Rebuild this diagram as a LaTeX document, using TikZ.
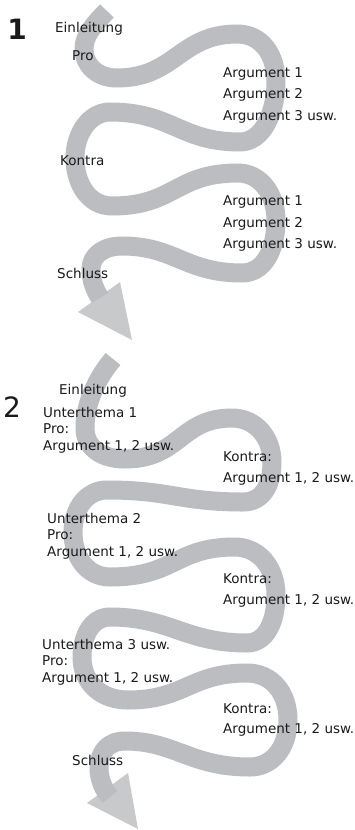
\documentclass[tikz,border=0pt]{standalone}
\usepackage{fontspec}
\setmainfont{DejaVu Sans}
\definecolor{band}{HTML}{BCBDC0}
\definecolor{head}{HTML}{C8C9CB}
\definecolor{ink}{HTML}{1A1A1A}
\begin{document}
\begin{tikzpicture}[x=1pt,y=-1pt,
  snake/.style={draw=band,line width=19pt,line cap=butt,line join=round},
  headstyle/.style={fill=head,draw=none},
  lbl/.style={anchor=base west,inner sep=0pt,text=ink,font=\fontsize{13.5}{16}\selectfont},
  num/.style={anchor=center,inner sep=0pt,text=ink,font=\fontsize{28}{30}\selectfont}]
\useasboundingbox (0,0) rectangle (354,830);
\fill[white] (0,0) rectangle (354,830);
% ---------- Diagram 1 ----------
\fill[headstyle] (78,312) -- (120,282) -- (132,340) -- cycle;
\draw[snake] (107,11) .. controls (93,25) and (84,36) .. (84,49)
  .. controls (84,66) and (98,78) .. (117,78)
  .. controls (175,78) and (180,34) .. (237,34)
  .. controls (262,34) and (276,55) .. (276,82)
  .. controls (276,112) and (263,142) .. (240,142)
  .. controls (180,142) and (172,112) .. (110,112)
  .. controls (90,112) and (75,133) .. (75,158)
  .. controls (75,184) and (89,206) .. (112,206)
  .. controls (175,206) and (175,173) .. (238,173)
  .. controls (261,173) and (276,195) .. (276,220)
  .. controls (276,250) and (264,273) .. (242,273)
  .. controls (185,273) and (175,246) .. (122,246)
  .. controls (104,246) and (91,255) .. (91,269)
  .. controls (91,281) and (95,290) .. (100,298);
\node[num,font=\fontsize{28}{30}\selectfont\bfseries] (n1) at (17,29) {1};
\node[lbl] (a-ein) at (55,32) {Einleitung};
\node[lbl] (a-pro) at (72,60) {Pro};
\node[lbl] (a-p1) at (223,77) {Argument 1};
\node[lbl] (a-p2) at (223,98.5) {Argument 2};
\node[lbl] (a-p3) at (223,120) {Argument 3 usw.};
\node[lbl] (a-kon) at (60,165) {Kontra};
\node[lbl] (a-k1) at (223,205) {Argument 1};
\node[lbl] (a-k2) at (223,227) {Argument 2};
\node[lbl] (a-k3) at (223,248) {Argument 3 usw.};
\node[lbl] (a-sch) at (57,278) {Schluss};
% ---------- Diagram 2 ----------
\fill[headstyle] (87,803) -- (128,773) -- (138,829) -- cycle;
\draw[snake] (113,359) .. controls (97,378) and (85,403) .. (85,428)
  .. controls (85,448) and (102,459) .. (125,459)
  .. controls (180,459) and (180,418) .. (232,418)
  .. controls (256,418) and (272,438) .. (272,462)
  .. controls (272,486) and (262,502) .. (243,502)
  .. controls (180,502) and (170,490) .. (107,490)
  .. controls (87,490) and (73,508) .. (73,532)
  .. controls (73,558) and (88,577) .. (110,577)
  .. controls (175,577) and (175,547) .. (235,547)
  .. controls (259,547) and (276,568) .. (276,595)
  .. controls (276,622) and (266,643) .. (247,643)
  .. controls (185,643) and (170,617) .. (110,617)
  .. controls (93,617) and (82,634) .. (82,657)
  .. controls (82,682) and (100,700) .. (128,700)
  .. controls (185,700) and (190,673) .. (247,673)
  .. controls (272,673) and (288,693) .. (288,720)
  .. controls (288,748) and (272,767) .. (250,767)
  .. controls (190,767) and (175,741) .. (125,741)
  .. controls (108,741) and (99,752) .. (99,768)
  .. controls (99,780) and (104,790) .. (110,797);
\node[num] (n2) at (12,407) {2};
\node[lbl] (b-ein) at (59,394) {Einleitung};
\node[lbl] (b-u1) at (43,417) {Unterthema 1};
\node[lbl] (b-p1) at (43,433.5) {Pro:};
\node[lbl] (b-a1) at (43,450) {Argument 1, 2 usw.};
\node[lbl] (b-k1) at (223,461) {Kontra:};
\node[lbl] (b-ka1) at (223,482) {Argument 1, 2 usw.};
\node[lbl] (b-u2) at (47,523) {Unterthema 2};
\node[lbl] (b-p2) at (47,539.5) {Pro:};
\node[lbl] (b-a2) at (47,556) {Argument 1, 2 usw.};
\node[lbl] (b-k2) at (223,583) {Kontra:};
\node[lbl] (b-ka2) at (223,604) {Argument 1, 2 usw.};
\node[lbl] (b-u3) at (42,649) {Unterthema 3 usw.};
\node[lbl] (b-p3) at (42,665.5) {Pro:};
\node[lbl] (b-a3) at (42,682) {Argument 1, 2 usw.};
\node[lbl] (b-k3) at (223,713) {Kontra:};
\node[lbl] (b-ka3) at (223,733) {Argument 1, 2 usw.};
\node[lbl] (b-sch) at (72,765) {Schluss};
\end{tikzpicture}
\end{document}
